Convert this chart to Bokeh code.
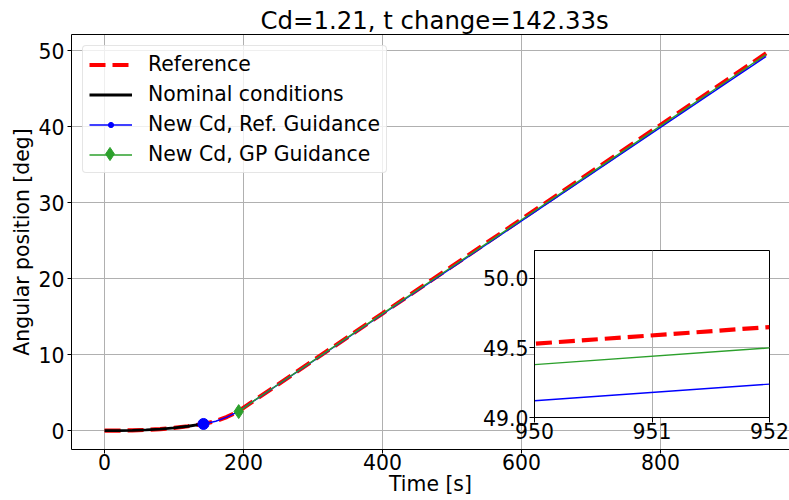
from bokeh.plotting import figure
from bokeh.models import Range1d, LinearAxis, FixedTicker, Legend, LegendItem, PrintfTickFormatter
from bokeh.embed import file_html
from bokeh.resources import INLINE

# ---------------- data ----------------
ref_t = [0, 20, 40, 60, 80, 100, 120, 142.33, 160, 176, 192, 210, 240, 300, 400, 500, 600, 700, 800, 900, 950, 952]
ref_y = [0, 0.01, 0.04, 0.10, 0.20, 0.36, 0.58, 0.88, 1.25, 1.80, 2.51, 3.63, 5.49, 9.21, 15.43, 21.63, 27.83, 34.03, 40.23, 46.43, 49.53, 49.65]

nom_t = [0, 20, 40, 60, 80, 100, 120, 142.33]
nom_y = [0, 0.01, 0.04, 0.10, 0.20, 0.36, 0.58, 0.88]

refg_t = [142.33, 160, 176, 192, 210, 240, 300, 400, 500, 600, 700, 800, 900, 950, 952]
refg_y = [0.88, 1.24, 1.78, 2.49, 3.62, 5.46, 9.15, 15.32, 21.46, 27.61, 33.75, 39.90, 46.05, 49.12, 49.24]

gpg_t = [193, 210, 240, 300, 400, 500, 600, 700, 800, 900, 950, 952]
gpg_y = [2.51, 3.63, 5.48, 9.19, 15.39, 21.57, 27.75, 33.93, 40.11, 46.28, 49.38, 49.50]

t_change = [142.33]
t_change_y = [0.88]
gp_start_t = [193]
gp_start_y = [2.51]

x_ticks = [0, 200, 400, 600, 800]
y_ticks = [0, 10, 20, 30, 40, 50]
inset_x_ticks = [950, 951, 952]
inset_y_ticks = [49.0, 49.5, 50.0]

title_text = "Cd=1.21, t change=142.33s"
labels = ["Reference", "Nominal conditions", "New Cd, Ref. Guidance", "New Cd, GP Guidance"]

FONT = "DejaVu Sans"
FS = "20.4px"
GRID = "#b0b0b0"
RED, BLACK, BLUE, GREEN = "#ff0000", "#000000", "#0000ff", "#2ca02c"

# ---------------- main figure ----------------
p = figure(width=789, height=500, output_backend="svg", toolbar_location=None,
           x_range=Range1d(-47.6, 985.6), y_range=Range1d(-2.48, 52.13),
           min_border_left=71, min_border_right=0, min_border_top=34, min_border_bottom=51,
           background_fill_color="white", border_fill_color="white")
p.outline_line_color = None
p.title.text = title_text
p.title.align = "left"
p.title.offset = 189
p.title.text_font = FONT
p.title.text_font_size = "24.4px"
p.title.text_font_style = "normal"
p.title.text_color = "black"
p.title.standoff = -1

p.xaxis.ticker = FixedTicker(ticks=x_ticks)
p.yaxis.ticker = FixedTicker(ticks=y_ticks)
p.xaxis.axis_label = "Time [s]"
p.yaxis.axis_label = "Angular position [deg]"
for ax in (p.xaxis, p.yaxis):
    ax.axis_label_text_font = FONT
    ax.axis_label_text_font_size = FS
    ax.axis_label_text_font_style = "normal"
    ax.axis_label_text_color = "black"
    ax.major_label_text_font = FONT
    ax.major_label_text_font_size = FS
    ax.major_label_text_color = "black"
    ax.major_tick_in = 0
    ax.major_tick_out = 4
    ax.minor_tick_in = 0
    ax.minor_tick_out = 0
    ax.axis_line_color = "black"
    ax.axis_line_width = 1
    ax.major_tick_line_color = "black"
p.xaxis.major_label_standoff = 0
p.xaxis.axis_label_standoff = -1
p.yaxis.major_label_standoff = 3
p.yaxis.axis_label_standoff = 2

top_axis = LinearAxis(ticker=FixedTicker(ticks=[]), major_label_text_font_size="0px",
                      major_label_standoff=0, axis_label_standoff=0,
                      major_tick_in=0, major_tick_out=0, minor_tick_in=0, minor_tick_out=0,
                      axis_line_color="black", axis_line_width=1)
p.add_layout(top_axis, "above")

p.grid.grid_line_color = GRID
p.grid.grid_line_width = 1

r_ref = p.line(ref_t, ref_y, line_color=RED, line_width=4.2, line_dash="16 7")
r_nom = p.line(nom_t, nom_y, line_color=BLACK, line_width=2.8)
r_blue = p.line(refg_t, refg_y, line_color=BLUE, line_width=1.4)
r_blue_dot = p.scatter(t_change, t_change_y, marker="circle", size=5, fill_color=BLUE, line_color=BLUE)
r_green = p.line(gpg_t, gpg_y, line_color=GREEN, line_width=1.4)
r_green_mk = p.scatter(gp_start_t, gp_start_y, marker="diamond", size=14, fill_color=GREEN, line_color=GREEN)
p.scatter(t_change, t_change_y, marker="circle", size=11, fill_color=BLUE, line_color=BLUE)

legend = Legend(items=[
    LegendItem(label=labels[0], renderers=[r_ref]),
    LegendItem(label=labels[1], renderers=[r_nom]),
    LegendItem(label=labels[2], renderers=[r_blue, r_blue_dot]),
    LegendItem(label=labels[3], renderers=[r_green]),
], location="top_left")
legend.label_text_font = FONT
legend.label_text_font_size = FS
legend.label_text_color = "black"
legend.glyph_width = 43
legend.glyph_height = 13
legend.label_height = 24
legend.spacing = 6
legend.padding = 6
legend.margin = 11
legend.label_standoff = 16
legend.border_line_color = "#cccccc"
legend.border_line_width = 1
legend.background_fill_color = "white"
legend.background_fill_alpha = 0.8
if "border_radius" in Legend.properties():
    legend.border_radius = 4
p.add_layout(legend)

# second, invisible legend only to draw the larger diamond legend marker
legend_mk = Legend(items=[LegendItem(label=" ", renderers=[r_green_mk])], location=(17, 279))
legend_mk.glyph_width = 43
legend_mk.glyph_height = 33
legend_mk.label_height = 20
legend_mk.label_standoff = 0
legend_mk.label_text_font_size = FS
legend_mk.padding = 0
legend_mk.margin = 0
legend_mk.spacing = 0
legend_mk.border_line_color = None
legend_mk.background_fill_alpha = 0
p.add_layout(legend_mk)

# ---------------- inset ----------------
inset = figure(width=315, height=205, output_backend="svg", toolbar_location=None,
               x_range=Range1d(950, 952), y_range=Range1d(49.0, 50.2),
               min_border_left=60, min_border_right=20, min_border_top=5, min_border_bottom=33,
               background_fill_color="white", border_fill_color=None)
inset.border_fill_alpha = 0
inset.outline_line_color = "black"
inset.outline_line_width = 1
inset.xaxis.ticker = FixedTicker(ticks=inset_x_ticks)
inset.yaxis.ticker = FixedTicker(ticks=inset_y_ticks)
inset.yaxis.formatter = PrintfTickFormatter(format="%.1f")
for ax in (inset.xaxis, inset.yaxis):
    ax.major_label_text_font = FONT
    ax.major_label_text_font_size = FS
    ax.major_label_text_color = "black"
    ax.major_tick_in = 0
    ax.major_tick_out = 5
    ax.minor_tick_in = 0
    ax.minor_tick_out = 0
    ax.axis_line_color = "black"
inset.xaxis.major_label_standoff = 0
inset.yaxis.major_label_standoff = 1
inset.grid.grid_line_color = GRID
inset.grid.grid_line_width = 1
inset.line(ref_t, ref_y, line_color=RED, line_width=4.2, line_dash="16 7")
inset.line(refg_t, refg_y, line_color=BLUE, line_width=1.4)
inset.line(gpg_t, gpg_y, line_color=GREEN, line_width=1.4)
inset.styles = {"position": "absolute", "left": "474px", "top": "245px"}

open("out.html", "w").write(file_html([p, inset], INLINE))
